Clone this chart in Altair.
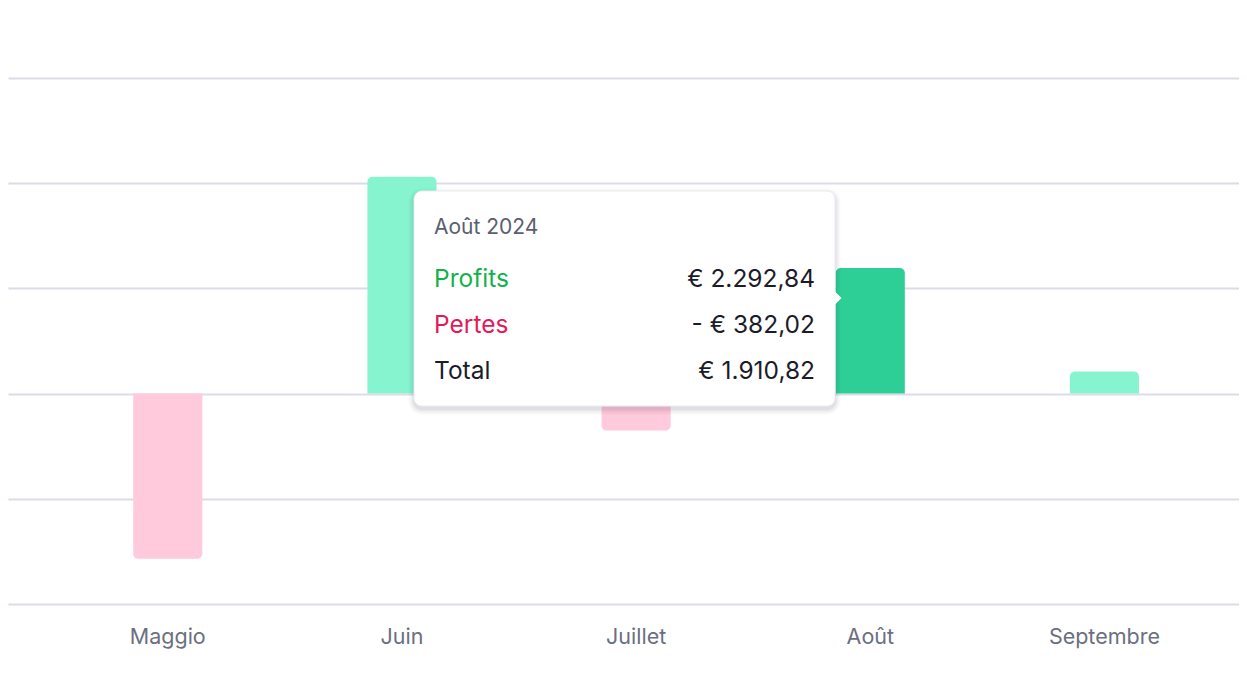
import altair as alt
import pandas as pd

# ---- data ----
months = ["Maggio", "Juin", "Juillet", "Août", "Septembre"]
totals = [-2510, 3300, -560, 1910.82, 335]
highlight = "Août"

tooltip_title = "Août 2024"
tooltip_labels = ["Profits", "Pertes", "Total"]
tooltip_profit = 2292.84
tooltip_loss = 382.02
tooltip_total = tooltip_profit - tooltip_loss

grid_values = [-3200, -1600, 0, 1600, 3200, 4800]

FONT = "Inter"


def euro(v):
    s = f"{abs(v):,.2f}".replace(",", "X").replace(".", ",").replace("X", ".")
    return ("- " if v < 0 else "") + "€ " + s


df = pd.DataFrame({
    "month": months,
    "value": totals,
    "zero": [0] * len(months),
})
df["state"] = [
    "hl" if m == highlight else ("pos" if v >= 0 else "neg")
    for m, v in zip(months, totals)
]

x_enc = alt.X(
    "month:N",
    sort=months,
    title=None,
    scale=alt.Scale(paddingInner=0.705, paddingOuter=0.481, align=0.556),
    axis=alt.Axis(
        domain=False, ticks=False, tickSize=0, labelPadding=22,
        labelFontSize=21.5, labelColor="#6b6f80", labelFont=FONT,
        grid=False, labelAngle=0,
    ),
)
y_enc = alt.Y(
    "value:Q",
    title=None,
    scale=alt.Scale(domain=[-3200, 4800], nice=False, zero=True),
    axis=alt.Axis(
        values=grid_values, labels=False, ticks=False, tickSize=0, domain=False,
        grid=True, gridColor="#dcdce8", gridWidth=1.8,
    ),
)
color_enc = alt.Color(
    "state:N",
    scale=alt.Scale(domain=["pos", "neg", "hl"], range=["#86f5cf", "#ffcadb", "#2ecf97"]),
    legend=None,
)

base = alt.Chart(df)
pos_bars = base.transform_filter("datum.value >= 0").mark_bar(
    cornerRadiusTopLeft=5, cornerRadiusTopRight=5
).encode(x=x_enc, y=y_enc, y2="zero:Q", color=color_enc)
neg_bars = base.transform_filter("datum.value < 0").mark_bar(
    cornerRadiusBottomLeft=5, cornerRadiusBottomRight=5
).encode(x=x_enc, y=y_enc, y2="zero:Q", color=color_enc)

# ---- tooltip box ----
bx0, bx1, by0, by1 = 406, 827, 113, 328
layers = [pos_bars, neg_bars]
anno = alt.Chart(pd.DataFrame({"a": [0]}))
for i, op in enumerate([0.035, 0.03, 0.025, 0.02, 0.015, 0.01]):
    e = i + 1
    layers.append(
        anno.mark_rect(color="#1a1f36", opacity=op, cornerRadius=8 + e).encode(
            x=alt.value(bx0 - e), x2=alt.value(bx1 + e),
            y=alt.value(by0 - e + 3), y2=alt.value(by1 + e + 3),
        )
    )
layers.append(
    anno.mark_rect(color="white", stroke="#ececf2", strokeWidth=1, cornerRadius=8).encode(
        x=alt.value(bx0), x2=alt.value(bx1), y=alt.value(by0), y2=alt.value(by1)
    )
)
layers.append(
    anno.mark_point(shape="M0,-1L1,0L0,1Z", size=200, filled=True, color="white", opacity=1).encode(
        x=alt.value(bx1 - 0.5), y=alt.value(220)
    )
)
layers.append(
    anno.mark_text(align="left", baseline="middle", font=FONT, fontSize=21, color="#5b5e6e").encode(
        x=alt.value(426), y=alt.value(150), text=alt.value(tooltip_title)
    )
)
row_vals = [euro(tooltip_profit), euro(-tooltip_loss), euro(tooltip_total)]
row_cols = ["#12b24a", "#e3195c", "#1b1b29"]
row_y = [202, 248, 294]
for lab, val, col, yy in zip(tooltip_labels, row_vals, row_cols, row_y):
    layers.append(
        anno.mark_text(align="left", baseline="middle", font=FONT, fontSize=24.5, color=col).encode(
            x=alt.value(426), y=alt.value(yy), text=alt.value(lab)
        )
    )
    layers.append(
        anno.mark_text(align="right", baseline="middle", font=FONT, fontSize=24.5, color="#1b1b29").encode(
            x=alt.value(807), y=alt.value(yy), text=alt.value(val)
        )
    )

chart = alt.layer(*layers).properties(
    width=1231, height=526,
    padding={"top": 70, "left": 0, "right": 0, "bottom": 10},
    background="white",
).configure_view(stroke=None).configure_axis(labelFont=FONT)

chart.save("out.html", embed_options={"renderer": "svg", "actions": False})
